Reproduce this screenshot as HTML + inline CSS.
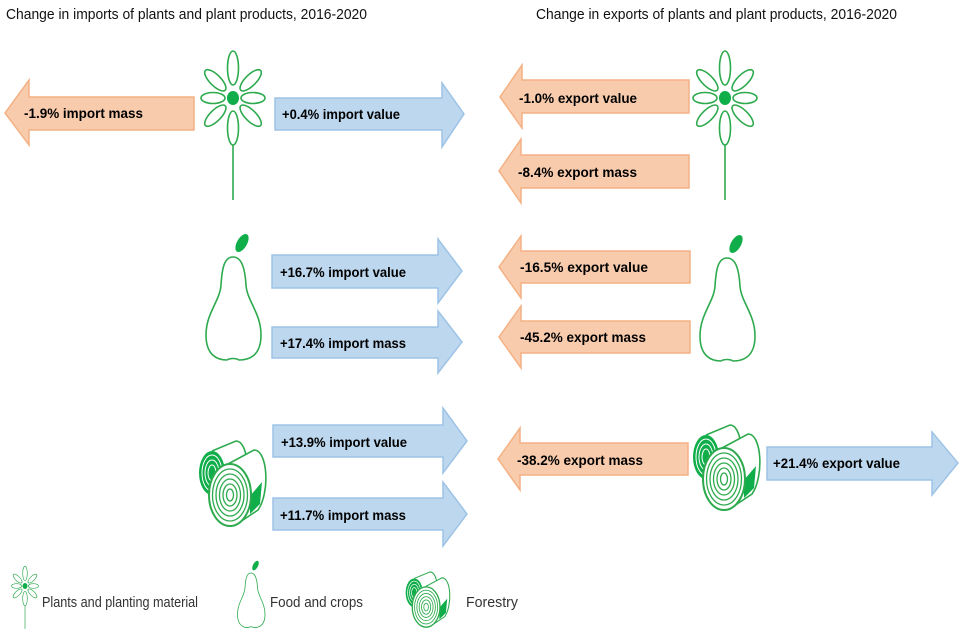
<!DOCTYPE html>
<html><head><meta charset="utf-8"><style>
html,body{margin:0;padding:0;background:#fff;}
svg{display:block;}
.t{font-family:"Liberation Sans",sans-serif;font-weight:bold;font-size:14px;fill:#000;}
.h{font-family:"Liberation Sans",sans-serif;font-size:15px;fill:#111;}
.l{font-family:"Liberation Sans",sans-serif;font-size:15px;fill:#333;}
.o{fill:#f8cbad;stroke:#f4b183;stroke-width:1.5;}
.b{fill:#bdd7ee;stroke:#9dc3e6;stroke-width:1.5;}
.g{fill:none;stroke:#2eaa4e;stroke-width:1.6;}
</style></head><body>
<svg width="960" height="640" viewBox="0 0 960 640" xmlns="http://www.w3.org/2000/svg">
<defs>
<g id="flower">
  <g class="g">
    <ellipse cx="0" cy="-30" rx="5.5" ry="17"/>
    <ellipse cx="0" cy="-25" rx="5.5" ry="14" transform="rotate(45)"/>
    <ellipse cx="0" cy="-20" rx="5.5" ry="12" transform="rotate(90)"/>
    <ellipse cx="0" cy="-25" rx="5.5" ry="14" transform="rotate(135)"/>
    <ellipse cx="0" cy="-30" rx="5.5" ry="17" transform="rotate(180)"/>
    <ellipse cx="0" cy="-25" rx="5.5" ry="14" transform="rotate(225)"/>
    <ellipse cx="0" cy="-20" rx="5.5" ry="12" transform="rotate(270)"/>
    <ellipse cx="0" cy="-25" rx="5.5" ry="14" transform="rotate(315)"/>
    <line x1="0" y1="47" x2="0" y2="102"/>
  </g>
  <ellipse cx="0" cy="0" rx="6" ry="7" fill="#0fae4a"/>
</g>
<g id="pear">
  <path class="g" d="M28,0 C19,0 17,12 16,28 C15,44 1,56 1,78 C1,98 12,103 22,103 C25,101 31,101 34,103 C45,103 56,98 56,78 C56,56 42,44 41,28 C40,12 37,0 28,0Z"/>
  <ellipse cx="37" cy="-14" rx="5" ry="10" transform="rotate(30 37 -14)" fill="#0fae4a"/>
</g>
<g id="logs">
  <path class="g" d="M14,13 L38,3 C50,3 52,38 46,48"/>
  <ellipse cx="14" cy="35" rx="13" ry="22" fill="#0fae4a"/>
  <g fill="none" stroke="#fff" stroke-width="1">
    <ellipse cx="14" cy="35" rx="10" ry="18"/>
    <ellipse cx="14" cy="35" rx="7" ry="13"/>
    <ellipse cx="14" cy="35" rx="4" ry="8"/>
  </g>
  <path d="M30,26 L56,12 C70,12 72,55 60,72 L36,88" fill="#fff" stroke="#2eaa4e" stroke-width="1.6"/>
  <path d="M52,58 L64,44 L62,66 L52,76Z" fill="#0fae4a"/>
  <ellipse cx="32" cy="57" rx="21" ry="31" fill="#fff" stroke="#2eaa4e" stroke-width="2"/>
  <g fill="none" stroke="#2eaa4e" stroke-width="1.3">
    <ellipse cx="32" cy="57" rx="17.5" ry="26"/>
    <ellipse cx="32" cy="57" rx="14" ry="21"/>
    <ellipse cx="32" cy="57" rx="10.5" ry="16"/>
    <ellipse cx="32" cy="57" rx="7" ry="11"/>
    <ellipse cx="32" cy="57" rx="3.5" ry="6"/>
  </g>
</g>
</defs>

<text class="h" x="6" y="19" textLength="361" lengthAdjust="spacingAndGlyphs">Change in imports of plants and plant products, 2016-2020</text>
<text class="h" x="536" y="19" textLength="361" lengthAdjust="spacingAndGlyphs">Change in exports of plants and plant products, 2016-2020</text>

<path class="o" d="M194,97 H29 V80 L5,113 L29,145 V130 H194Z"/>
<text class="t" x="24" y="118" textLength="119" lengthAdjust="spacingAndGlyphs">-1.9%  import mass</text>
<path class="b" d="M275,98 H442 V83 L464,114 L442,147 V130 H275Z"/>
<text class="t" x="282" y="119" textLength="118" lengthAdjust="spacingAndGlyphs">+0.4% import value</text>

<path class="b" d="M272,255 H438 V239 L462,271 L438,303 V288 H272Z"/>
<text class="t" x="280" y="277" textLength="126" lengthAdjust="spacingAndGlyphs">+16.7% import value</text>
<path class="b" d="M272,327 H438 V311 L462,342 L438,373 V358 H272Z"/>
<text class="t" x="280" y="348" textLength="126" lengthAdjust="spacingAndGlyphs">+17.4% import mass</text>

<path class="b" d="M273,425 H443 V408 L467,441 L443,473 V457 H273Z"/>
<text class="t" x="281" y="447" textLength="126" lengthAdjust="spacingAndGlyphs">+13.9% import value</text>
<path class="b" d="M273,498 H443 V482 L467,514 L443,546 V530 H273Z"/>
<text class="t" x="280" y="520" textLength="126" lengthAdjust="spacingAndGlyphs">+11.7% import mass</text>

<path class="o" d="M689,80 H522 V65 L500,97 L522,128 V113 H689Z"/>
<text class="t" x="519" y="103" textLength="118" lengthAdjust="spacingAndGlyphs">-1.0%  export value</text>
<path class="o" d="M689,155 H521 V139 L499,171 L521,203 V188 H689Z"/>
<text class="t" x="518" y="177" textLength="119" lengthAdjust="spacingAndGlyphs">-8.4%  export mass</text>
<path class="o" d="M690,251 H521 V236 L499,267 L521,298 V283 H690Z"/>
<text class="t" x="520" y="272" textLength="128" lengthAdjust="spacingAndGlyphs">-16.5%  export value</text>
<path class="o" d="M690,321 H521 V306 L499,337 L521,368 V353 H690Z"/>
<text class="t" x="520" y="342" textLength="126" lengthAdjust="spacingAndGlyphs">-45.2%  export mass</text>
<path class="o" d="M688,443 H520 V428 L498,459 L520,490 V475 H688Z"/>
<text class="t" x="517" y="465" textLength="126" lengthAdjust="spacingAndGlyphs">-38.2%  export mass</text>
<path class="b" d="M767,447 H932 V432 L958,463 L932,495 V480 H767Z"/>
<text class="t" x="773" y="468" textLength="127" lengthAdjust="spacingAndGlyphs">+21.4% export value</text>

<use href="#flower" transform="translate(233,98)"/>
<use href="#flower" transform="translate(725,98)"/>
<use href="#pear" transform="translate(205,257)"/>
<use href="#pear" transform="translate(699,258)"/>
<use href="#logs" transform="translate(198,438)"/>
<use href="#logs" transform="translate(692,422)"/>

<use href="#flower" transform="translate(25,586) scale(0.42)"/>
<text class="l" x="42" y="607" textLength="156" lengthAdjust="spacingAndGlyphs">Plants and planting material</text>
<use href="#pear" transform="translate(237,573) scale(0.5,0.53)"/>
<text class="l" x="270" y="607" textLength="93" lengthAdjust="spacingAndGlyphs">Food and crops</text>
<use href="#logs" transform="translate(405,570) scale(0.66,0.65)"/>
<text class="l" x="466" y="607" textLength="52" lengthAdjust="spacingAndGlyphs">Forestry</text>
</svg>
</body></html>
